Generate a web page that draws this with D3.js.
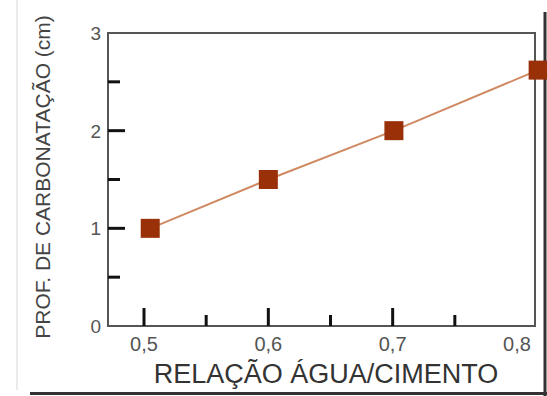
<!DOCTYPE html>
<html>
<head>
<meta charset="utf-8">
<script src="https://cdn.jsdelivr.net/npm/d3@7"></script>
<style>
  html, body { margin: 0; padding: 0; background: #fff; }
  svg { display: block; }
</style>
</head>
<body>
<svg id="chart" width="547" height="396"></svg>
<script>
// Data
const waterCement = [0.505, 0.6, 0.701, 0.817];
const carbonDepth = [1.0, 1.5, 2.0, 2.62];
const xMajorTicks = [0.5, 0.6, 0.7, 0.8];
const xMinorTicks = [0.55, 0.65, 0.75];
const yMajorTicks = [0, 1, 2, 3];
const yMinorTicks = [0.5, 1.5, 2.5];
const xTitle = "RELAÇÃO ÁGUA/CIMENTO";
const yTitle = "PROF. DE CARBONATAÇÃO (cm)";

const svg = d3.select("#chart");
const font = "'Liberation Sans', Arial, sans-serif";

const frame = {left: 108, right: 535, top: 33, bottom: 326};
const x = d3.scaleLinear().domain([0.5, 0.8]).range([144, 517]);
const y = d3.scaleLinear().domain([0, 3]).range([frame.bottom, frame.top]);

// outer image borders
svg.append("line").attr("x1", 17).attr("x2", 17).attr("y1", 0).attr("y2", 390)
  .attr("stroke", "#e4e4e4").attr("stroke-width", 1.5);
svg.append("line").attr("x1", 545).attr("x2", 545).attr("y1", 12).attr("y2", 396)
  .attr("stroke", "#333").attr("stroke-width", 3);
svg.append("line").attr("x1", 30).attr("x2", 547).attr("y1", 393.5).attr("y2", 393.5)
  .attr("stroke", "#333").attr("stroke-width", 3);

// frame
svg.append("rect")
  .attr("x", frame.left).attr("y", frame.top)
  .attr("width", frame.right - frame.left).attr("height", frame.bottom - frame.top)
  .attr("fill", "none").attr("stroke", "#555").attr("stroke-width", 2);

// y ticks (inward)
const gy = svg.append("g");
gy.selectAll("line.major").data(yMajorTicks.filter(d => d > 0 && d < 3)).join("line")
  .attr("x1", frame.left).attr("x2", frame.left + 17)
  .attr("y1", d => y(d)).attr("y2", d => y(d))
  .attr("stroke", "#111").attr("stroke-width", 3);
gy.selectAll("line.minor").data(yMinorTicks).join("line").attr("class", "minor")
  .attr("x1", frame.left).attr("x2", frame.left + 12)
  .attr("y1", d => y(d)).attr("y2", d => y(d))
  .attr("stroke", "#111").attr("stroke-width", 3);
gy.selectAll("text").data(yMajorTicks).join("text")
  .attr("x", 101).attr("y", d => y(d) + 7)
  .attr("text-anchor", "end")
  .attr("font-family", font).attr("font-size", 19)
  .attr("fill", "#555")
  .text(d => d);

// x ticks (inward)
const gx = svg.append("g");
gx.selectAll("line.major").data(xMajorTicks.filter(d => d < 0.8)).join("line").attr("class", "major")
  .attr("x1", d => x(d)).attr("x2", d => x(d))
  .attr("y1", frame.bottom).attr("y2", frame.bottom - 18)
  .attr("stroke", "#111").attr("stroke-width", 3);
gx.selectAll("line.minor").data(xMinorTicks).join("line").attr("class", "minor")
  .attr("x1", d => x(d)).attr("x2", d => x(d))
  .attr("y1", frame.bottom).attr("y2", frame.bottom - 11)
  .attr("stroke", "#111").attr("stroke-width", 3);
gx.selectAll("text").data(xMajorTicks).join("text")
  .attr("x", d => x(d)).attr("y", 351)
  .attr("text-anchor", "middle")
  .attr("font-family", font).attr("font-size", 20)
  .attr("fill", "#555")
  .text(d => d3.format(".1f")(d).replace(".", ","));

// titles
svg.append("text")
  .attr("x", 326).attr("y", 383)
  .attr("text-anchor", "middle")
  .attr("font-family", font).attr("font-size", 27)
  .attr("fill", "#333")
  .text(xTitle);
svg.append("text")
  .attr("transform", "translate(50,177) rotate(-90)")
  .attr("text-anchor", "middle")
  .attr("font-family", font).attr("font-size", 21)
  .attr("fill", "#444")
  .text(yTitle);

// line + markers
const pts = waterCement.map((v, i) => [v, carbonDepth[i]]);
svg.append("path")
  .datum(pts)
  .attr("d", d3.line().x(d => x(d[0])).y(d => y(d[1])))
  .attr("fill", "none").attr("stroke", "#cf8a63").attr("stroke-width", 2);
const s = 19;
svg.selectAll("rect.pt").data(pts).join("rect").attr("class", "pt")
  .attr("x", d => x(d[0]) - s / 2).attr("y", d => y(d[1]) - s / 2)
  .attr("width", s).attr("height", s)
  .attr("fill", "#9a3008");
</script>
</body>
</html>
